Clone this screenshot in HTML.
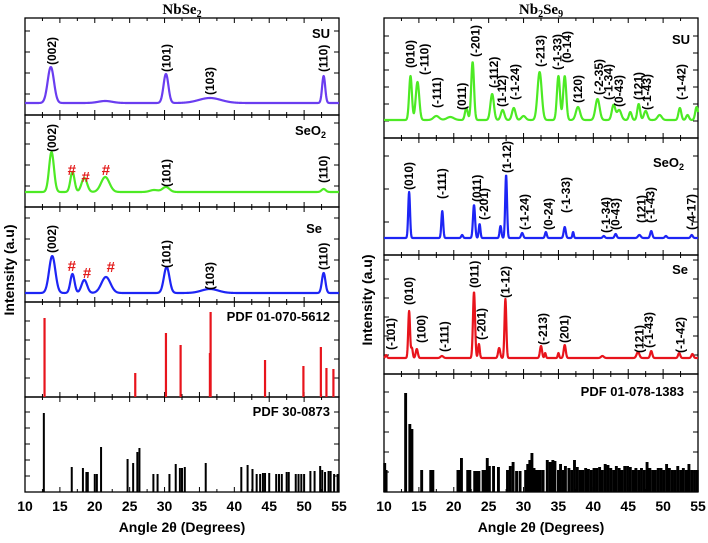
<!DOCTYPE html>
<html><head><meta charset="utf-8"><style>
body{margin:0;background:#fff}
svg{display:block;font-family:"Liberation Sans",sans-serif}
</style></head><body>
<svg id="c" width="708" height="543" viewBox="0 0 708 543"></svg>
<script>
// ---------- DATA ----------
const xTicks=[10,15,20,25,30,35,40,45,50,55];
// Left: NbSe2
const suL_pos=[13.7,21.5,30.2,36.5,52.8];
const suL_h=[36,2,29,5,27];
const suL_w=[0.45,1.0,0.35,1.6,0.22];
const seo2L_pos=[13.8,16.8,18.5,21.5,28.5,30.2,52.8];
const seo2L_h=[40,20,14,15,2,5,3];
const seo2L_w=[0.35,0.3,0.4,0.6,0.6,0.5,0.3];
const seL_pos=[13.9,16.8,18.5,21.6,30.3,36.5,52.8];
const seL_h=[37,19,13,16,26,4,20];
const seL_w=[0.45,0.3,0.4,0.65,0.4,1.2,0.25];
const pdfA_pos=[12.8,25.8,30.2,32.3,36.5,36.6,44.4,49.9,52.4,53.2,54.2];
const pdfA_h=[79,24,64,52,44,85,37,31,50,29,28];
const pdfB_pos=[12.7,16.7,18.3,18.8,19.0,20.0,20.3,20.9,24.7,25.5,26.1,26.4,28.4,29.0,30.7,31.6,32.2,32.5,32.9,35.9,41.0,41.9,42.6,43.2,43.7,44.1,44.4,45.0,46.0,46.4,46.8,47.5,47.8,48.8,49.2,49.6,50.0,50.9,51.5,52.3,52.6,53.0,53.5,53.8,54.3,54.8];
const pdfB_h=[79,25,24,20,20,18,18,45,33,29,40,44,18,18,18,28,24,24,25,29,25,27,23,18,18,19,19,19,18,18,18,20,20,18,18,18,18,21,21,26,22,20,21,21,18,18];
// Right: Nb2Se9
const suR_pos=[13.8,14.8,17.5,19.5,21.8,22.7,25.5,27.0,28.6,30.0,32.3,35.0,35.9,37.8,40.6,42.9,43.7,45.3,46.5,47.5,49.5,52.4,53.5,54.8];
const suR_h=[44,38,4,3,12,58,26,10,12,4,48,44,44,13,21,15,10,8,16,9,5,12,5,13];
const suR_w=[0.2,0.25,0.4,0.5,0.2,0.2,0.25,0.25,0.25,0.3,0.3,0.22,0.22,0.3,0.3,0.25,0.3,0.2,0.2,0.25,0.3,0.2,0.2,0.2];
const seo2R_pos=[13.6,18.35,21.2,22.9,23.7,26.7,27.5,29.8,33.2,35.9,37.1,41.5,43.2,46.6,48.3,50.4,54.1];
const seo2R_h=[46,27,3,33,14,12,63,5,6,11,6,2,4,3,7,2,3];
const seo2R_w=[0.13,0.13,0.13,0.15,0.12,0.13,0.13,0.15,0.13,0.15,0.1,0.15,0.15,0.2,0.15,0.15,0.15];
const seR_pos=[10.3,13.6,14.0,14.7,18.3,22.9,23.6,26.5,27.4,32.5,33.1,35.0,35.9,41.3,46.4,48.3,52.3,54.2];
const seR_h=[3,47,10,9,2,66,14,10,59,12,5,5,13,2,6,7,5,4];
const seR_w=[0.12,0.13,0.12,0.15,0.2,0.15,0.12,0.15,0.13,0.15,0.1,0.1,0.15,0.2,0.2,0.15,0.15,0.15];
const pdfC_pos=[10.1,10.3,13.1,13.7,14.0,15.4,16.7,17.0,20.6,20.8,21.1,22.0,22.3,23.0,23.3,23.6,24.2,24.5,24.8,25.1,25.7,26.4,27.7,28.1,28.5,29.0,29.5,30.3,30.6,30.9,31.2,31.5,31.8,32.1,32.4,32.8,33.4,33.8,34.2,34.5,35.0,35.3,35.7,36.0,36.5,36.9,37.3,37.7,38.1,38.5,38.9,39.3,39.7,40.1,40.5,40.9,41.3,41.7,42.1,42.5,42.9,43.3,43.7,44.1,44.5,44.9,45.3,45.7,46.1,46.5,46.9,47.3,47.7,48.1,48.5,48.9,49.3,49.7,50.1,50.5,50.9,51.3,51.7,52.1,52.5,52.9,53.3,53.7,54.1,54.5,54.9];
const pdfC_h=[29,22,99,68,63,22,22,22,22,22,34,22,22,21,21,21,22,22,34,26,26,25,22,26,30,21,21,22,28,32,39,24,22,22,22,22,32,30,32,31,22,28,22,26,24,22,32,25,22,22,24,23,22,24,24,25,22,28,27,24,22,26,24,22,26,26,25,22,24,22,24,22,30,24,22,22,24,24,22,28,24,22,22,26,22,24,22,28,22,22,22];
// Peak label texts and positions (degrees, height above baseline in intensity units)
const labSuL=["(002)","(101)","(103)","(110)"], labSuL_x=[13.9,30.3,36.5,52.8], labSuL_y=[38,31,8,31];
const labSeo2L=["(002)","(101)","(110)"], labSeo2L_x=[13.9,30.3,52.8], labSeo2L_y=[40,5,9];
const hashSeo2L_x=[16.7,18.7,21.6], hashSeo2L_y=[17,10,17];
const labSeL=["(002)","(101)","(103)","(110)"], labSeL_x=[13.9,30.3,36.5,52.8], labSeL_y=[40,25,3,23];
const hashSeL_x=[16.7,18.9,22.3], hashSeL_y=[22,15,21];
const labSuR=["(010)","(-110)","(-111)","(011)","(-201)","(-112)","(1-12)","(-1-24)","(-213)","(-1-33)","(0-14)","(120)","(-2-35)","(-1-34)","(0-43)","(121)","(-1-43)","(-1-42)"];
const labSuR_x=[13.8,15.8,17.6,21.2,23.1,25.8,26.9,28.8,32.4,34.9,36.2,37.8,40.8,42.2,43.7,46.5,47.7,52.6];
const labSuR_y=[52,45,12,10,63,32,13,20,53,50,57,17,25,20,13,20,10,20];
const labSeo2R=["(010)","(-111)","(011)","(-201)","(1-12)","(-1-24)","(0-24)","(-1-33)","(-1-34)","(0-43)","(121)","(-1-43)","(-4-17)"];
const labSeo2R_x=[13.6,18.3,23.3,24.3,27.6,30.1,33.6,36.1,41.8,43.2,46.9,48.2,54.1];
const labSeo2R_y=[48,39,36,18,65,8,8,25,5,8,15,15,8];
const labSeR=["(-101)","(010)","(100)","(-111)","(011)","(-201)","(1-12)","(-213)","(201)","(121)","(-1-43)","(-1-42)"];
const labSeR_x=[11.0,13.6,15.4,18.7,23.0,24.0,27.4,32.8,35.9,46.6,48.0,52.5];
const labSeR_y=[8,53,15,6,70,18,60,13,15,5,10,5];

// ---------- DRAWING ----------
const svg=document.getElementById('c');
const NS='http://www.w3.org/2000/svg';
function el(tag,attrs,parent){const e=document.createElementNS(NS,tag);for(const k in attrs)e.setAttribute(k,attrs[k]);(parent||svg).appendChild(e);return e;}
function mkX(x0,x1){return v=>x0+(v-10)/45*(x1-x0);}
const xL=mkX(25,339), xR=mkX(384,698);

function frame(sx,top,bot,step,name){
  const g=el('g',{});
  
  
  const x0=sx(10),x1=sx(55);
  el('rect',{x:x0,y:top,width:x1-x0,height:bot-top,fill:'none',stroke:'#000','stroke-width':1.3},g);
  for(let v=10;v<=55;v+=2.5){const x=sx(v);const L=(v%5===0)?5:3;
    el('line',{x1:x,y1:bot,x2:x,y2:bot-L,stroke:'#000','stroke-width':1},g);
    el('line',{x1:x,y1:top,x2:x,y2:top+L,stroke:'#000','stroke-width':1},g);}
  for(let y=bot-step;y>top+4;y-=step){
    el('line',{x1:x0,y1:y,x2:x0+5,y2:y,stroke:'#000','stroke-width':1},g);
    el('line',{x1:x1,y1:y,x2:x1-5,y2:y,stroke:'#000','stroke-width':1},g);}
}
function spectrum(sx,base,pos,h,w,color,name){
  let d='';
  for(let v=10;v<=55.001;v+=0.04){
    let s=0;for(let i=0;i<pos.length;i++){const ww=w[i];s+=h[i]*Math.exp(-((v-pos[i])**2)/(2*ww*ww));}
    d+=(d?'L':'M')+sx(v).toFixed(2)+','+(base-s).toFixed(2);
  }
  const p=el('path',{d:d,fill:'none',stroke:color,'stroke-width':2.2,'stroke-linejoin':'round'});
  
  
}
function bars(sx,base,pos,h,color,wd,name){
  const g=el('g',{});
  
  
  for(let i=0;i<pos.length;i++){
    const b=el('rect',{x:sx(pos[i])-wd/2,y:base-h[i],width:wd,height:h[i],fill:color},g);
    
    
  }
}
function labels(sx,base,txt,xs,ys,name){
  for(let i=0;i<txt.length;i++){
    const t=el('text',{transform:`translate(${sx(xs[i])+4},${base-ys[i]}) rotate(-90)`,'font-size':12,'font-weight':'bold','text-anchor':'start'});
    t.textContent=txt[i];
    
    
  }
}
function hashes(sx,base,xs,ys){
  for(let i=0;i<xs.length;i++){
    const t=el('text',{x:sx(xs[i]),y:base-ys[i],'font-size':15,'font-weight':'bold',fill:'#e31b1b','text-anchor':'middle'});
    t.textContent='#';
    
    
  }
}
function tag(x,y,txt,name,sub){
  const t=el('text',{x:x,y:y,'font-size':13,'font-weight':'bold','text-anchor':'end'});
  t.textContent=txt;
  if(sub){const s=el('tspan',{'font-size':9,dy:3},t);s.textContent=sub;}
  
  
}

// Left panels
frame(xL,18,115,21,'panel-nbse2-su');
frame(xL,115,207,21,'panel-nbse2-seo2');
frame(xL,207,302,21,'panel-nbse2-se');
frame(xL,302,397,19,'panel-nbse2-pdf-5612');
frame(xL,397,492,16,'panel-nbse2-pdf-0873');
spectrum(xL,103,suL_pos,suL_h,suL_w,'#6a3df0','nbse2-su-curve');
spectrum(xL,192,seo2L_pos,seo2L_h,seo2L_w,'#4dea24','nbse2-seo2-curve');
spectrum(xL,293,seL_pos,seL_h,seL_w,'#1d25f5','nbse2-se-curve');
bars(xL,397,pdfA_pos,pdfA_h,'#e8141c',2.2,'pdf-01-070-5612-bars');
bars(xL,492,pdfB_pos,pdfB_h,'#000',2,'pdf-30-0873-bars');
labels(xL,103,labSuL,labSuL_x,labSuL_y,'peak-label');
labels(xL,192,labSeo2L,labSeo2L_x,labSeo2L_y,'peak-label');
labels(xL,293,labSeL,labSeL_x,labSeL_y,'peak-label');
hashes(xL,192,hashSeo2L_x,hashSeo2L_y);
hashes(xL,293,hashSeL_x,hashSeL_y);
tag(330,38,'SU','label-su');
tag(326,135,'SeO','label-seo2','2');
tag(322,233,'Se','label-se');
tag(330,321,'PDF 01-070-5612','label-pdf-5612');
tag(330,416,'PDF 30-0873','label-pdf-0873');

// Right panels
frame(xR,18,138,17,'panel-nb2se9-su');
frame(xR,138,255,33,'panel-nb2se9-seo2');
frame(xR,255,374,19,'panel-nb2se9-se');
frame(xR,374,492,20,'panel-nb2se9-pdf-1383');
spectrum(xR,120,suR_pos,suR_h,suR_w,'#4dea24','nb2se9-su-curve');
spectrum(xR,238,seo2R_pos,seo2R_h,seo2R_w,'#1d25f5','nb2se9-seo2-curve');
spectrum(xR,358,seR_pos,seR_h,seR_w,'#e8141c','nb2se9-se-curve');
bars(xR,492,pdfC_pos,pdfC_h,'#000',2.9,'pdf-01-078-1383-bars');
labels(xR,120,labSuR,labSuR_x,labSuR_y,'peak-label');
labels(xR,238,labSeo2R,labSeo2R_x,labSeo2R_y,'peak-label');
labels(xR,358,labSeR,labSeR_x,labSeR_y,'peak-label');
tag(690,44,'SU','label-su-right');
tag(684,167,'SeO','label-seo2-right','2');
tag(688,274,'Se','label-se-right');
tag(684,396,'PDF 01-078-1383','label-pdf-1383');

// x tick labels
[[xL,'left'],[xR,'right']].forEach(([sx,side])=>{
  xTicks.forEach(v=>{
    const t=el('text',{x:sx(v),y:511,'font-size':14,'font-weight':'bold','text-anchor':'middle'});
    t.textContent=v;
    
    
  });
  const a=el('text',{x:sx(32.5),y:532,'font-size':14,'font-weight':'bold','text-anchor':'middle'});
  a.textContent='Angle 2θ (Degrees)';
  
  
});
// y axis titles
[[14,270,'left'],[372,300,'right']].forEach(([x,y,side])=>{
  const t=el('text',{transform:`translate(${x},${y}) rotate(-90)`,'font-size':14,'font-weight':'bold','text-anchor':'middle'});
  t.textContent='Intensity (a.u)';
  
  
});
// panel titles
[[182,'NbSe','2','','title-nbse2'],[541,'Nb','2','Se','title-nb2se9']].forEach(([x,a,b,c,n])=>{
  const t=el('text',{x:x,y:14,'font-size':15,'font-weight':'bold','text-anchor':'middle','font-family':'Liberation Serif, serif'});
  t.textContent=a;
  const s=el('tspan',{'font-size':10,dy:3},t);s.textContent=b;
  if(c){const s2=el('tspan',{dy:-3},t);s2.textContent=c;const s3=el('tspan',{'font-size':10,dy:3},t);s3.textContent='9';}
  
  
});
</script>
</body></html>
